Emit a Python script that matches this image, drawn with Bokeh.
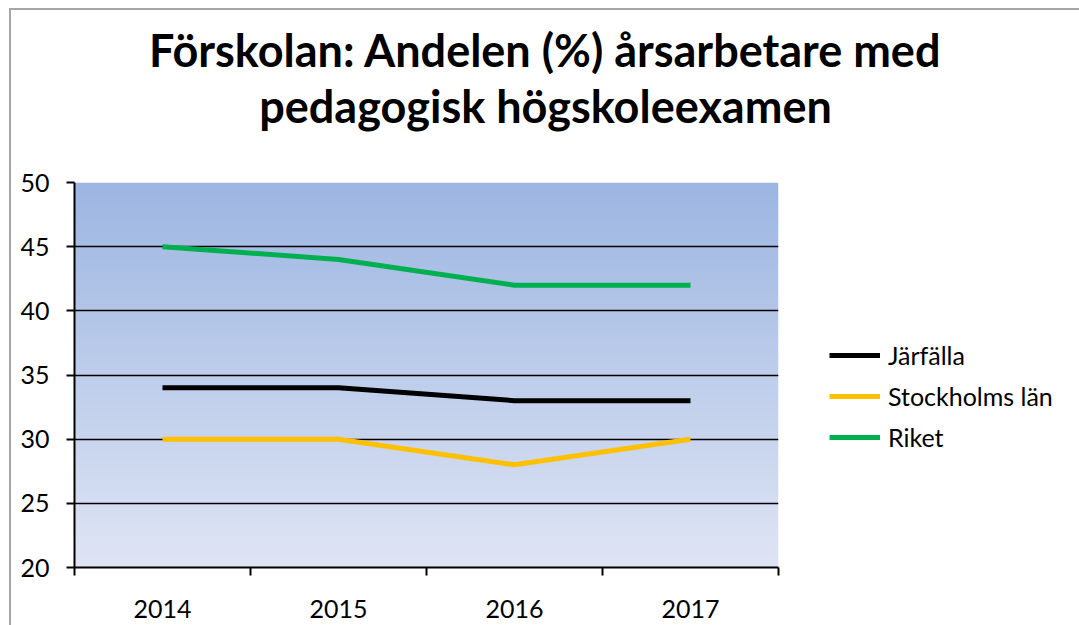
import numpy as np
from bokeh.plotting import figure
from bokeh.models import FixedTicker, Legend, LegendItem, Title
from bokeh.embed import file_html
from bokeh.resources import INLINE

# ---- data ----
years = ["2014", "2015", "2016", "2017"]
jarfalla = [34, 34, 33, 33]
stockholms_lan = [30, 30, 28, 30]
riket = [45, 44, 42, 42]
series_names = ["Järfälla", "Stockholms län", "Riket"]
series_colors = ["#000000", "#FFC000", "#00B050"]
y_ticks = [20, 25, 30, 35, 40, 45, 50]
title_lines = ["Förskolan: Andelen (%) årsarbetare med", "pedagogisk högskoleexamen"]

FONT = "Lato"
xs = [i + 0.5 for i in range(len(years))]

p = figure(output_backend="svg", toolbar_location=None, title=None,
           frame_width=704, frame_height=385,
           x_range=(0, len(years)), y_range=(y_ticks[0], y_ticks[-1]),
           min_border_left=63, min_border_top=172, min_border_right=296, min_border_bottom=58)
p.styles = {"margin-left": "9px", "margin-top": "8px",
            "border-left": "2px solid #A6A6A6", "border-top": "2px solid #A6A6A6"}
p.outline_line_color = None
p.background_fill_color = "white"
p.border_fill_color = "white"

# gradient background of plot area
N = 200
top = np.array([157, 182, 226])
bot = np.array([223, 229, 244])
img = np.zeros((N, 1), dtype=np.uint32)
view = img.view(dtype=np.uint8).reshape((N, 1, 4))
for i in range(N):
    t = i / (N - 1)
    c = bot + (top - bot) * t
    view[i, 0, 0:3] = c.astype(np.uint8)
    view[i, 0, 3] = 255
p.image_rgba(image=[img], x=0, y=y_ticks[0], dw=len(years), dh=y_ticks[-1] - y_ticks[0], level="image")

# grid
p.xgrid.grid_line_color = None
p.ygrid.ticker = FixedTicker(ticks=y_ticks)
p.ygrid.grid_line_color = "black"
p.ygrid.grid_line_width = 1.5
p.ygrid.level = "underlay"

LABEL_SIZE = "25px"

# axes
p.yaxis.ticker = FixedTicker(ticks=y_ticks)
p.yaxis.axis_line_color = "black"
p.yaxis.axis_line_width = 2
p.yaxis.major_tick_out = 8
p.yaxis.major_tick_in = 0
p.yaxis.major_tick_line_width = 2
p.yaxis.minor_tick_line_color = None
p.yaxis.major_label_standoff = 17
p.yaxis.major_label_text_font = FONT
p.yaxis.major_label_text_font_size = LABEL_SIZE
p.yaxis.major_label_text_color = "black"

p.xaxis.ticker = FixedTicker(ticks=xs, minor_ticks=list(range(len(years) + 1)))
p.xaxis.major_label_overrides = {x: y for x, y in zip(xs, years)}
p.xaxis.axis_line_color = "black"
p.xaxis.axis_line_width = 2
p.xaxis.major_tick_line_color = None
p.xaxis.major_tick_out = 0
p.xaxis.major_tick_in = 0
p.xaxis.minor_tick_out = 8
p.xaxis.minor_tick_in = 0
p.xaxis.minor_tick_line_width = 2
p.xaxis.minor_tick_line_color = "black"
p.xaxis.major_label_standoff = 24
p.xaxis.major_label_text_font = FONT
p.xaxis.major_label_text_font_size = LABEL_SIZE
p.xaxis.major_label_text_color = "black"

# lines
renderers = []
for vals, col in zip([jarfalla, stockholms_lan, riket], series_colors):
    r = p.line(xs, vals, line_color=col, line_width=5)
    renderers.append(r)

legend = Legend(items=[LegendItem(label=n, renderers=[r]) for n, r in zip(series_names, renderers)],
                location=(51, 115), padding=0, margin=0, spacing=11,
                glyph_width=51, glyph_height=30, label_height=30, label_standoff=8,
                label_text_font=FONT, label_text_font_size=LABEL_SIZE, label_text_color="black",
                border_line_color=None, background_fill_alpha=0)
p.add_layout(legend, "right")

# title: two centred lines (line 2 nearest the frame), shifted right via left padding
for txt, pad_bottom in zip(reversed(title_lines), [50, 0]):
    kw = dict(text=txt, align="center",
              text_font=FONT, text_font_style="bold", text_font_size="45px",
              text_color="black")
    try:
        t = Title(padding=dict(left=238, right=0, top=0, bottom=pad_bottom), standoff=0, **kw)
    except Exception:
        t = Title(padding=dict(left=238, right=0, top=0, bottom=pad_bottom), **kw)
    p.add_layout(t, "above")

open("out.html", "w").write(file_html(p, INLINE))
